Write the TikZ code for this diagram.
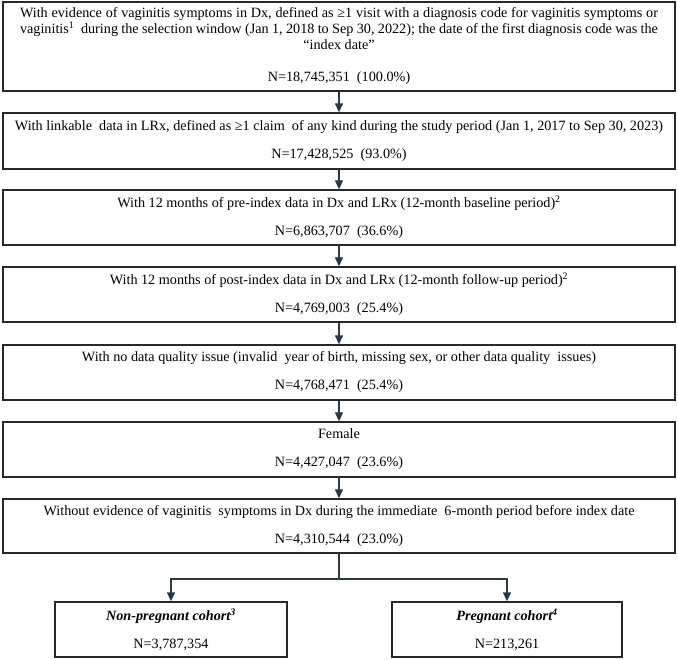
\documentclass[tikz,border=0pt]{standalone}
\usepackage{fontspec}
\setmainfont{Liberation Serif}
\usetikzlibrary{arrows.meta}
\definecolor{linecol}{RGB}{45,55,66}
\definecolor{boxcol}{RGB}{40,40,40}
\begin{document}
\begin{tikzpicture}[x=1pt,y=-1pt,
  box/.style={draw=boxcol,line width=1.3pt,inner sep=0pt,align=center,
    minimum width=672pt,font=\fontsize{14.2}{16}\selectfont},
  cbox/.style={box,minimum width=232pt,minimum height=55pt},
  conn/.style={draw=linecol,line width=1.3pt},
  arr/.style={conn,-{Triangle[width=8pt,length=9pt]}}]
\useasboundingbox (0,0) rectangle (678,660);
\node[box,minimum height=89pt] (b1) at (339,46.5) {%
\makebox[638pt][s]{With evidence of vaginitis symptoms in Dx, defined as ≥1 visit with a diagnosis code for vaginitis symptoms or}\\
\makebox[638pt][s]{vaginitis\textsuperscript{1}\ \ during the selection window (Jan 1, 2018 to Sep 30, 2022); the date of the first diagnosis code was the}\\
``index date''\\[16pt]
N=18,745,351\ \ (100.0\%)};
\node[box,minimum height=56pt] (b2) at (339,141) {%
With linkable\ \ data in LRx, defined as ≥1 claim\ \ of any kind during the study period (Jan 1, 2017 to Sep 30, 2023)\\[12pt]
N=17,428,525\ \ (93.0\%)};
\node[box,minimum height=55pt] (b3) at (339,217.5) {%
With 12 months of pre-index data in Dx and LRx (12-month baseline period)\textsuperscript{2}\\[12pt]
N=6,863,707\ \ (36.6\%)};
\node[box,minimum height=55pt] (b4) at (339,294.5) {%
With 12 months of post-index data in Dx and LRx (12-month follow-up period)\textsuperscript{2}\\[12pt]
N=4,769,003\ \ (25.4\%)};
\node[box,minimum height=55pt] (b5) at (339,372.5) {%
With no data quality issue (invalid\ \ year of birth, missing sex, or other data quality\ \ issues)\\[12pt]
N=4,768,471\ \ (25.4\%)};
\node[box,minimum height=55pt] (b6) at (339,449.5) {%
Female\\[12pt]
N=4,427,047\ \ (23.6\%)};
\node[box,minimum height=54pt] (b7) at (339,526) {%
Without evidence of vaginitis\ \ symptoms in Dx during the immediate\ \ 6-month period before index date\\[12pt]
N=4,310,544\ \ (23.0\%)};
\node[cbox] (np) at (171,629.5) {%
\textbf{\textit{Non-pregnant cohort\textsuperscript{3}}}\\[12pt]
N=3,787,354};
\node[cbox,minimum width=230pt] (pg) at (507,629.5) {%
\textbf{\textit{Pregnant cohort\textsuperscript{4}}}\\[12pt]
N=213,261};
\draw[arr] (b1) -- (b2);
\draw[arr] (b2) -- (b3);
\draw[arr] (b3) -- (b4);
\draw[arr] (b4) -- (b5);
\draw[arr] (b5) -- (b6);
\draw[arr] (b6) -- (b7);
\coordinate (split) at (339,579);
\draw[conn] (b7.south) -- (split);
\draw[arr] (split) -| (np.north);
\draw[arr] (split) -| (pg.north);
\end{tikzpicture}
\end{document}
